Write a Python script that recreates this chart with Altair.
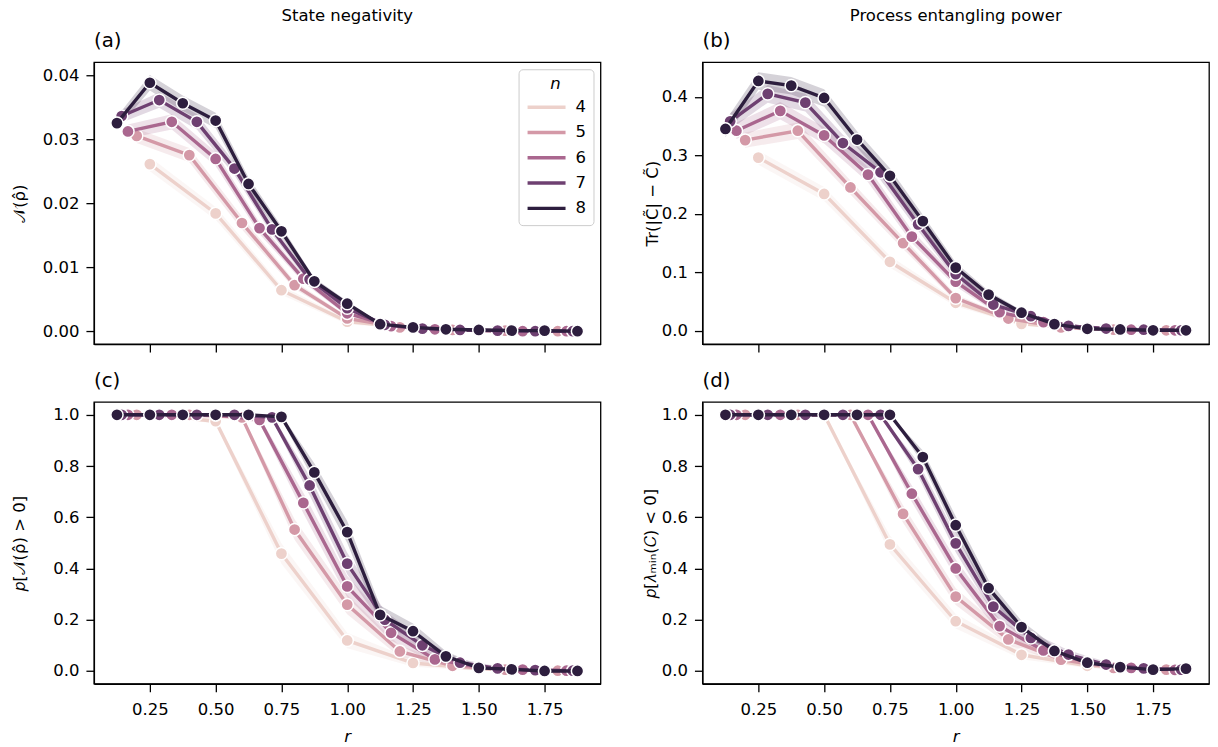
import altair as alt
import pandas as pd

FONT = "DejaVu Sans"
NS = [4, 5, 6, 7, 8]
COLORS = ["#edd1cb", "#d499a7", "#aa678f", "#6e4071", "#2d1e3e"]

# r grid per n
R = {
    4: [0.25, 0.5, 0.75, 1.0, 1.25, 1.5, 1.75],
    5: [0.2, 0.4, 0.6, 0.8, 1.0, 1.2, 1.4, 1.6, 1.8],
    6: [0.1667, 0.3333, 0.5, 0.6667, 0.8333, 1.0, 1.1667, 1.3333, 1.5, 1.6667, 1.8333],
    7: [0.1429, 0.2857, 0.4286, 0.5714, 0.7143, 0.8571, 1.0, 1.1429, 1.2857, 1.4286, 1.5714, 1.7143, 1.8571],
    8: [0.125, 0.25, 0.375, 0.5, 0.625, 0.75, 0.875, 1.0, 1.125, 1.25, 1.375, 1.5, 1.625, 1.75, 1.875],
}

# (a) state negativity
A_VAL = {
    4: [0.0261, 0.0184, 0.0064, 0.0015, 0.0005, 0.0001, 0.0000],
    5: [0.0305, 0.0275, 0.0169, 0.0072, 0.0020, 0.0006, 0.0002, 0.0001, 0.0000],
    6: [0.0312, 0.0327, 0.0269, 0.0161, 0.0082, 0.0028, 0.0008, 0.0003, 0.0001, 0.0000, 0.0000],
    7: [0.0336, 0.0361, 0.0327, 0.0254, 0.0159, 0.0081, 0.0036, 0.0010, 0.0004, 0.0002, 0.0001, 0.0000, 0.0000],
    8: [0.0325, 0.0388, 0.0356, 0.0329, 0.0230, 0.0156, 0.0078, 0.0043, 0.0011, 0.0006, 0.0003, 0.0002, 0.0001, 0.0001, 0.0000],
}
A_ERR = {
    4: [0.0011, 0.0010, 0.0007, 0.0004, 0.0002, 0.0001, 0.0000],
    5: [0.0011, 0.0011, 0.0010, 0.0006, 0.0003, 0.0002, 0.0001, 0.0000, 0.0000],
    6: [0.0011, 0.0012, 0.0011, 0.0009, 0.0006, 0.0004, 0.0002, 0.0001, 0.0000, 0.0000, 0.0000],
    7: [0.0010, 0.0012, 0.0012, 0.0010, 0.0008, 0.0006, 0.0004, 0.0002, 0.0001, 0.0000, 0.0000, 0.0000, 0.0000],
    8: [0.0010, 0.0012, 0.0012, 0.0012, 0.0010, 0.0008, 0.0005, 0.0004, 0.0002, 0.0001, 0.0001, 0.0000, 0.0000, 0.0000, 0.0000],
}

# (b) process entangling power
B_VAL = {
    4: [0.296, 0.234, 0.118, 0.048, 0.012, 0.003, 0.001],
    5: [0.326, 0.342, 0.245, 0.150, 0.056, 0.021, 0.006, 0.002, 0.001],
    6: [0.342, 0.376, 0.334, 0.267, 0.161, 0.084, 0.032, 0.015, 0.005, 0.002, 0.001],
    7: [0.358, 0.405, 0.390, 0.321, 0.271, 0.182, 0.097, 0.045, 0.025, 0.0085, 0.004, 0.002, 0.001],
    8: [0.345, 0.427, 0.419, 0.398, 0.327, 0.265, 0.1875, 0.108, 0.062, 0.031, 0.0115, 0.0035, 0.0024, 0.001, 0.001],
}
B_ERR = {
    4: [0.012, 0.012, 0.010, 0.006, 0.003, 0.001, 0.000],
    5: [0.013, 0.014, 0.012, 0.010, 0.006, 0.003, 0.001, 0.000, 0.000],
    6: [0.014, 0.015, 0.014, 0.013, 0.011, 0.008, 0.005, 0.003, 0.001, 0.000, 0.000],
    7: [0.014, 0.015, 0.015, 0.014, 0.013, 0.011, 0.009, 0.006, 0.004, 0.002, 0.001, 0.000, 0.000],
    8: [0.014, 0.015, 0.015, 0.015, 0.014, 0.013, 0.011, 0.009, 0.006, 0.004, 0.002, 0.001, 0.000, 0.000, 0.000],
}

# (c) probability of negativity > 0
C_VAL = {
    4: [1.0, 0.975, 0.458, 0.119, 0.031, 0.008, 0.001],
    5: [1.0, 1.0, 0.99, 0.552, 0.259, 0.076, 0.020, 0.005, 0.001],
    6: [1.0, 1.0, 1.0, 0.98, 0.656, 0.330, 0.149, 0.045, 0.015, 0.005, 0.001],
    7: [1.0, 1.0, 1.0, 1.0, 0.99, 0.724, 0.419, 0.200, 0.100, 0.032, 0.010, 0.003, 0.001],
    8: [1.0, 1.0, 1.0, 1.0, 1.0, 0.992, 0.775, 0.542, 0.219, 0.155, 0.057, 0.012, 0.006, 0.0, 0.0],
}
C_ERR = {
    4: [0.0, 0.01, 0.04, 0.03, 0.015, 0.007, 0.002],
    5: [0.0, 0.0, 0.008, 0.04, 0.038, 0.022, 0.011, 0.005, 0.002],
    6: [0.0, 0.0, 0.0, 0.012, 0.04, 0.042, 0.03, 0.017, 0.01, 0.005, 0.002],
    7: [0.0, 0.0, 0.0, 0.0, 0.007, 0.038, 0.042, 0.034, 0.025, 0.015, 0.008, 0.004, 0.002],
    8: [0.0, 0.0, 0.0, 0.0, 0.0, 0.008, 0.036, 0.043, 0.036, 0.03, 0.02, 0.009, 0.006, 0.0, 0.0],
}

# (d) probability of lambda_min < 0
D_VAL = {
    4: [1.0, 1.0, 0.494, 0.194, 0.063, 0.020, 0.005],
    5: [1.0, 1.0, 1.0, 0.613, 0.290, 0.123, 0.044, 0.012, 0.005],
    6: [1.0, 1.0, 1.0, 1.0, 0.692, 0.400, 0.175, 0.080, 0.035, 0.012, 0.004],
    7: [1.0, 1.0, 1.0, 1.0, 1.0, 0.788, 0.498, 0.251, 0.129, 0.064, 0.025, 0.010, 0.005],
    8: [1.0, 1.0, 1.0, 1.0, 1.0, 1.0, 0.835, 0.569, 0.323, 0.171, 0.078, 0.032, 0.015, 0.005, 0.009],
}
D_ERR = {
    4: [0.0, 0.0, 0.035, 0.028, 0.017, 0.009, 0.004],
    5: [0.0, 0.0, 0.0, 0.034, 0.033, 0.022, 0.013, 0.007, 0.004],
    6: [0.0, 0.0, 0.0, 0.0, 0.032, 0.035, 0.027, 0.018, 0.012, 0.007, 0.004],
    7: [0.0, 0.0, 0.0, 0.0, 0.0, 0.028, 0.035, 0.031, 0.023, 0.017, 0.011, 0.007, 0.004],
    8: [0.0, 0.0, 0.0, 0.0, 0.0, 0.0, 0.026, 0.035, 0.032, 0.025, 0.018, 0.011, 0.008, 0.004, 0.006],
}

X_TICKS = [0.25, 0.5, 0.75, 1.0, 1.25, 1.5, 1.75]
X_DOMAIN = [0.0375, 1.9625]

W, H = 507, 282


def frame(vals, errs, cap):
    rows = []
    for n in NS:
        for r, v, e in zip(R[n], vals[n], errs[n]):
            rows.append({"n": n, "r": r, "v": v,
                         "lo": max(v - e, 0.0), "hi": min(v + e, cap)})
    return pd.DataFrame(rows)


def panel(df, label, ytitle, ytitle_x, ydomain, yticks, yfmt, bottom, legend=None):
    xaxis = alt.Axis(values=X_TICKS, format=".2f", labels=bottom,
                     title="r" if bottom else None, titleFontStyle="italic",
                     labelPadding=10, titlePadding=10)
    xenc = alt.X("r:Q", scale=alt.Scale(domain=X_DOMAIN, nice=False, zero=False),
                 axis=xaxis)
    yscale = alt.Scale(domain=ydomain, nice=False, zero=False)
    yaxis = alt.Axis(values=yticks, format=yfmt, title=ytitle,
                     titleX=ytitle_x, titleBaseline="middle")
    cscale = alt.Scale(domain=NS, range=COLORS)

    band = alt.Chart(df).mark_area(opacity=0.2).encode(
        x=xenc,
        y=alt.Y("lo:Q", scale=yscale, axis=yaxis),
        y2="hi:Q",
        fill=alt.Fill("n:O", scale=cscale, legend=None),
    )
    layers = [band]
    for n in NS:
        sub = alt.Chart(df).transform_filter(alt.datum.n == n)
        line = sub.mark_line(strokeWidth=3.4).encode(
            x=xenc,
            y=alt.Y("v:Q", scale=yscale, axis=yaxis),
            color=alt.Color("n:O", scale=cscale, legend=legend),
        )
        pts = sub.mark_circle(size=150, opacity=1, stroke="white",
                              strokeWidth=1.5).encode(
            x=xenc,
            y=alt.Y("v:Q", scale=yscale, axis=yaxis),
            fill=alt.Fill("n:O", scale=cscale, legend=None),
        )
        layers += [line, pts]
    return alt.layer(*layers).properties(
        width=W, height=H,
        title=alt.TitleParams(label, anchor="start", frame="group", fontSize=19.8,
                              font=FONT, fontWeight="normal", color="black",
                              offset=11),
    )


legend = alt.Legend(
    title="n", titleFontStyle="italic", titleFont=FONT, titleFontSize=16.5,
    titleFontWeight="normal", titleAnchor="middle", titleColor="black",
    titlePadding=5,
    labelFont=FONT, labelFontSize=16.5, labelColor="black",
    orient="top-right", offset=7, symbolType="stroke", symbolStrokeWidth=3.4,
    symbolSize=1444, clipHeight=19, rowPadding=6.3, padding=7, strokeColor="#cccccc",
    cornerRadius=4, fillColor="rgba(255,255,255,0.8)", labelOffset=8,
    symbolOpacity=1,
)

pa = panel(frame(A_VAL, A_ERR, 1.0), "(a)", "𝒩(ρ̂)", -74, [-0.002, 0.042],
           [0.0, 0.01, 0.02, 0.03, 0.04], ".2f", False, legend)
pb = panel(frame(B_VAL, B_ERR, 1.0), "(b)", "Tr(|C̃| − C̃)", -50, [-0.0225, 0.459],
           [0.0, 0.1, 0.2, 0.3, 0.4], ".1f", False, None)
pc = panel(frame(C_VAL, C_ERR, 1.0), "(c)", "𝑝[𝒩(ρ̂) > 0]", -74, [-0.05, 1.05],
           [0.0, 0.2, 0.4, 0.6, 0.8, 1.0], ".1f", True, None)
pd_ = panel(frame(D_VAL, D_ERR, 1.0), "(d)", "𝑝[𝜆ₘᵢₙ(𝐶) < 0]", -52, [-0.05, 1.05],
            [0.0, 0.2, 0.4, 0.6, 0.8, 1.0], ".1f", True, None)


def col_title(t, dx):
    return alt.TitleParams(t, anchor="middle", fontSize=16.5, font=FONT,
                           fontWeight="normal", color="black", offset=6, dx=dx)


col1 = alt.vconcat(pa, pc, spacing=58, bounds="flush",
                   title=col_title("State negativity", 41)).resolve_scale(color="independent")
col2 = alt.vconcat(pb, pd_, spacing=58, bounds="flush",
                   title=col_title("Process entangling power", 30)).resolve_scale(color="independent")

chart = alt.hconcat(col1, col2, spacing=40).resolve_scale(
    color="independent"
).properties(
    padding={"left": 3, "top": 0, "right": 0, "bottom": 0}
).configure_axis(
    labelFont=FONT, labelFontSize=16.5, labelColor="black",
    titleFont=FONT, titleFontSize=16.5, titleFontWeight="normal", titleColor="black",
    tickColor="black", tickSize=8, tickWidth=1.3, domainColor="black", domainWidth=1.3,
    grid=False, labelPadding=7,
).configure_view(stroke="black", strokeWidth=1.3).configure_title(font=FONT)

chart.save("out.html", embed_options={"renderer": "svg", "actions": False})
